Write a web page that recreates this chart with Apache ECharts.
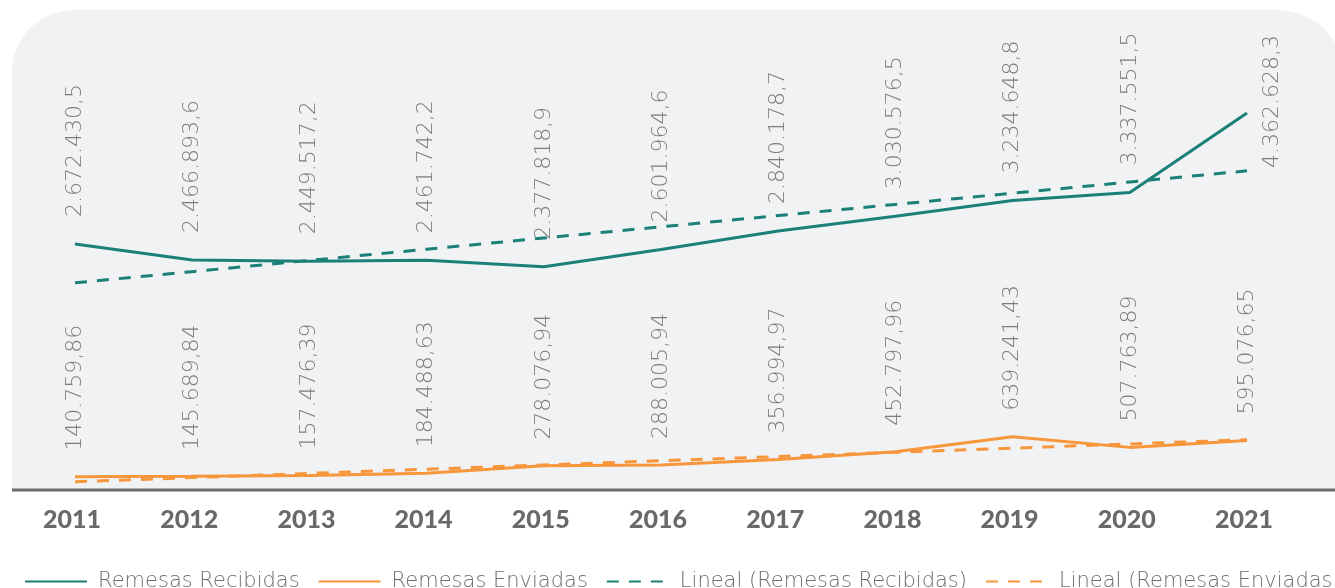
<!DOCTYPE html>
<html>
<head>
<meta charset="utf-8">
<script src="https://cdn.jsdelivr.net/npm/echarts@6/dist/echarts.min.js"></script>
<style>
html,body{margin:0;padding:0;background:#fff;}
#chart{width:1335px;height:588px;}
</style>
</head>
<body>
<div id="chart"></div>
<script>
// ---- data (thousands) ----
var years = ['2011','2012','2013','2014','2015','2016','2017','2018','2019','2020','2021'];
var recibidas = [2672.4305, 2466.8936, 2449.5172, 2461.7422, 2377.8189, 2601.9646, 2840.1787, 3030.5765, 3234.6488, 3337.5515, 4362.6283];
var enviadas = [140.75986, 145.68984, 157.47639, 184.48863, 278.07694, 288.00594, 356.99497, 452.79796, 639.24143, 507.76389, 595.07665];
var recibidasLabels = ['2.672.430,5','2.466.893,6','2.449.517,2','2.461.742,2','2.377.818,9','2.601.964,6','2.840.178,7','3.030.576,5','3.234.648,8','3.337.551,5','4.362.628,3'];
var enviadasLabels = ['140.759,86','145.689,84','157.476,39','184.488,63','278.076,94','288.005,94','356.994,97','452.797,96','639.241,43','507.763,89','595.076,65'];
// trend lines
var linealRecibidas = [2172, 2316, 2461, 2605, 2750, 2894, 3039, 3183, 3327, 3472, 3616];
var linealEnviadas = [78, 130, 183, 235, 288, 341, 393, 446, 498, 551, 603];

var GREEN = '#1b8077';
var ORANGE = '#f7963b';
var LABEL = '#7c7c7c';

var chart = echarts.init(document.getElementById('chart'));

var recData = recibidas.map(function (v, i) {
  var item = { value: v };
  if (i === 10) item.label = { position: [25, 55] };
  return item;
});

var baseLabel = {
  show: true,
  rotate: 90,
  align: 'left',
  verticalAlign: 'middle',
  color: LABEL,
  fontFamily: 'DejaVu Sans',
  fontWeight: 200,
  fontSize: 22
};

chart.setOption({
  animation: false,
  backgroundColor: '#ffffff',
  graphic: [
    { type: 'rect', z: -10, shape: { x: 12, y: 10, width: 1332, height: 480, r: [62, 66, 0, 0] }, style: { fill: '#f1f2f4' } },
    { type: 'line', z: 10, shape: { x1: 12, y1: 490, x2: 1335, y2: 490 }, style: { stroke: '#6b6b6b', lineWidth: 3 } }
  ],
  grid: { left: 16.4, right: 29.4, top: 10, bottom: 98 },
  legend: {
    bottom: -4,
    left: 24,
    width: 1800,
    padding: 0,
    itemWidth: 62,
    itemHeight: 14,
    itemGap: 18,
    textStyle: { color: '#6d6e71', fontFamily: 'DejaVu Sans', fontWeight: 200, fontSize: 21, padding: [0, 0, 0, 6] },
    itemStyle: { opacity: 0 },
    data: ['Remesas Recibidas', 'Remesas Enviadas', 'Lineal (Remesas Recibidas)', 'Lineal (Remesas Enviadas)']
  },
  xAxis: {
    type: 'category',
    data: years,
    boundaryGap: true,
    axisLine: { show: false },
    axisTick: { show: false },
    axisLabel: { color: '#69696b', fontFamily: 'Lato', fontWeight: 900, fontSize: 25, margin: 17, padding: [0, 6, 0, 0] }
  },
  yAxis: [
    { type: 'value', min: -500, max: 5690, show: false, splitLine: { show: false } },
    { type: 'value', min: -25, max: 5975, show: false, splitLine: { show: false } }
  ],
  series: [
    {
      name: 'Remesas Recibidas', type: 'line', yAxisIndex: 0,
      data: recData, symbol: 'circle', symbolSize: 0, showSymbol: true,
      lineStyle: { color: GREEN, width: 3 }, itemStyle: { color: GREEN },
      label: Object.assign({}, baseLabel, { position: [0, -27], formatter: function (p) { return recibidasLabels[p.dataIndex]; } }),
      z: 3
    },
    {
      name: 'Remesas Enviadas', type: 'line', yAxisIndex: 1,
      data: enviadas, symbol: 'circle', symbolSize: 0, showSymbol: true,
      lineStyle: { color: ORANGE, width: 3 }, itemStyle: { color: ORANGE },
      label: Object.assign({}, baseLabel, { position: [0, -26], formatter: function (p) { return enviadasLabels[p.dataIndex]; } }),
      z: 3
    },
    {
      name: 'Lineal (Remesas Recibidas)', type: 'line', yAxisIndex: 0,
      data: linealRecibidas, symbol: 'none',
      lineStyle: { color: GREEN, width: 3, type: [12, 10] }, itemStyle: { color: GREEN },
      z: 2
    },
    {
      name: 'Lineal (Remesas Enviadas)', type: 'line', yAxisIndex: 1,
      data: linealEnviadas, symbol: 'none',
      lineStyle: { color: ORANGE, width: 3, type: [12, 10] }, itemStyle: { color: ORANGE },
      z: 2
    }
  ]
});
</script>
</body>
</html>
